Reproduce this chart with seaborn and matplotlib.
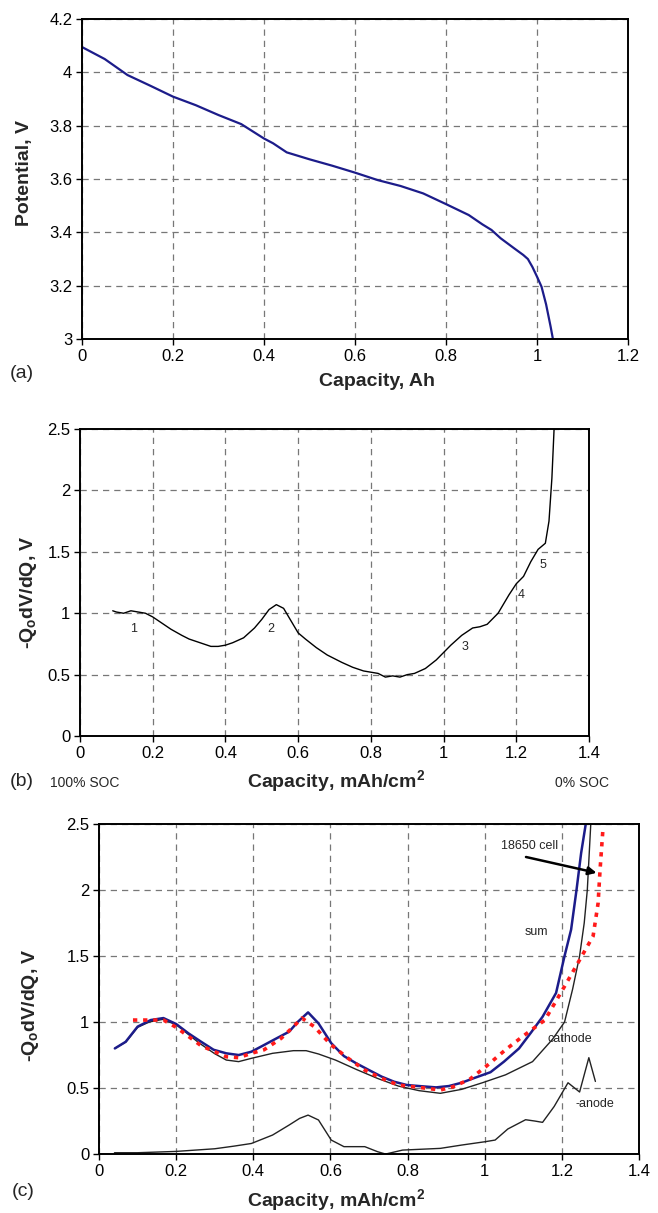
import matplotlib
matplotlib.use('Agg')
import matplotlib.pyplot as plt
import seaborn as sns
import pandas as pd

# (a) discharge curve
cap_a = [0.0, 0.05, 0.1, 0.15, 0.2, 0.25, 0.3, 0.35, 0.4, 0.42, 0.45, 0.5, 0.55, 0.6, 0.65,
         0.7, 0.75, 0.8, 0.85, 0.88, 0.9, 0.92, 0.95, 0.97, 0.98, 0.99, 1.0, 1.01, 1.02,
         1.03, 1.035]
volt_a = [4.095, 4.05, 3.99, 3.95, 3.909, 3.877, 3.84, 3.806, 3.752, 3.734, 3.70, 3.674,
          3.65, 3.624, 3.596, 3.574, 3.546, 3.506, 3.465, 3.43, 3.409, 3.378, 3.34, 3.315,
          3.3, 3.27, 3.234, 3.196, 3.13, 3.046, 3.0]

# (b) differential voltage of the 18650 cell
cap_b = [0.09, 0.1, 0.12, 0.14, 0.16, 0.18, 0.2, 0.22, 0.25, 0.28, 0.3, 0.33, 0.36, 0.38,
         0.4, 0.42, 0.45, 0.48, 0.5, 0.52, 0.54, 0.56, 0.58, 0.6, 0.62, 0.65, 0.68, 0.7,
         0.72, 0.75, 0.78, 0.8, 0.82, 0.84, 0.86, 0.88, 0.9, 0.92, 0.95, 0.98, 1.0, 1.02,
         1.05, 1.08, 1.1, 1.12, 1.15, 1.18, 1.2, 1.22, 1.24, 1.26, 1.28, 1.29, 1.298, 1.304]
dvdq_b = [1.02, 1.01, 1.0, 1.02, 1.01, 1.0, 0.97, 0.93, 0.87, 0.82, 0.79, 0.76, 0.73, 0.73,
          0.74, 0.76, 0.80, 0.88, 0.95, 1.03, 1.07, 1.04, 0.94, 0.84, 0.79, 0.72, 0.66, 0.63,
          0.60, 0.56, 0.53, 0.52, 0.51, 0.48, 0.49, 0.48, 0.50, 0.51, 0.55, 0.62, 0.68, 0.74,
          0.82, 0.88, 0.89, 0.91, 1.0, 1.15, 1.24, 1.30, 1.42, 1.52, 1.57, 1.75, 2.1, 2.5]
peak_labels = ['1', '2', '3', '4', '5']
peak_x = [0.147, 0.524, 1.06, 1.213, 1.273]
peak_y = [0.874, 0.874, 0.725, 1.145, 1.39]

# (c) model: sum, cathode, -anode, and measured cell
cap_sum = [0.041, 0.069, 0.10, 0.134, 0.167, 0.2, 0.232, 0.265, 0.297, 0.33, 0.362, 0.395,
           0.428, 0.46, 0.493, 0.515, 0.542, 0.569, 0.602, 0.635, 0.667, 0.7, 0.733, 0.765,
           0.798, 0.83, 0.874, 0.907, 0.94, 0.972, 1.015, 1.05, 1.089, 1.12, 1.15, 1.185,
           1.207, 1.224, 1.238, 1.25, 1.262]
dvdq_sum = [0.80, 0.85, 0.965, 1.015, 1.03, 0.985, 0.914, 0.85, 0.79, 0.763, 0.75, 0.775,
            0.826, 0.876, 0.927, 1.0, 1.073, 0.99, 0.84, 0.742, 0.687, 0.636, 0.586, 0.548,
            0.523, 0.515, 0.505, 0.515, 0.54, 0.575, 0.62, 0.70, 0.80, 0.92, 1.04, 1.22,
            1.5, 1.7, 2.0, 2.28, 2.5]

cap_cath = [0.041, 0.07, 0.1, 0.13, 0.165, 0.2, 0.23, 0.26, 0.3, 0.33, 0.362, 0.395, 0.45,
            0.504, 0.537, 0.569, 0.613, 0.667, 0.722, 0.776, 0.83, 0.885, 0.94, 0.994, 1.054,
            1.124, 1.176, 1.207, 1.228, 1.246, 1.258, 1.266, 1.275]
dvdq_cath = [0.80, 0.85, 0.96, 1.0, 1.02, 0.98, 0.91, 0.84, 0.76, 0.712, 0.70, 0.725, 0.763,
             0.783, 0.783, 0.758, 0.712, 0.641, 0.573, 0.515, 0.48, 0.46, 0.49, 0.54, 0.60,
             0.70, 0.87, 1.0, 1.25, 1.5, 1.75, 2.0, 2.5]

cap_anode = [0.04, 0.1, 0.2, 0.3, 0.35, 0.395, 0.45, 0.493, 0.52, 0.542, 0.569, 0.602, 0.635,
             0.689, 0.722, 0.743, 0.787, 0.885, 0.94, 1.0, 1.027, 1.06, 1.106, 1.13, 1.15,
             1.18, 1.216, 1.246, 1.27, 1.287]
dvdq_anode = [0.01, 0.01, 0.02, 0.04, 0.06, 0.08, 0.144, 0.22, 0.27, 0.295, 0.258, 0.106,
              0.056, 0.056, 0.018, 0.0, 0.03, 0.043, 0.068, 0.093, 0.106, 0.19, 0.26, 0.25,
              0.24, 0.36, 0.54, 0.47, 0.73, 0.55]

cap_cell = [0.088, 0.167, 0.2, 0.265, 0.33, 0.362, 0.395, 0.428, 0.472, 0.504, 0.526, 0.558,
            0.602, 0.646, 0.689, 0.733, 0.776, 0.83, 0.885, 0.918, 0.961, 1.002, 1.054, 1.098,
            1.156, 1.211, 1.246, 1.281, 1.294, 1.299, 1.307]
dvdq_cell = [1.015, 1.015, 0.96, 0.82, 0.737, 0.73, 0.763, 0.79, 0.876, 0.965, 1.03, 0.965,
             0.826, 0.725, 0.636, 0.573, 0.523, 0.505, 0.485, 0.51, 0.566, 0.66, 0.79, 0.89,
             1.015, 1.29, 1.47, 1.65, 1.9, 2.15, 2.48]

sns.set_style('ticks')
plt.rcParams['font.family'] = ['Liberation Sans', 'DejaVu Sans']
plt.rcParams['mathtext.fontset'] = 'custom'
plt.rcParams['mathtext.rm'] = 'Liberation Sans'
plt.rcParams['mathtext.bf'] = 'Liberation Sans:bold'

navy = '#1c1c8a'
grid_kw = dict(color='#777777', linestyle=(0, (5, 4)), linewidth=0.9)
ylab = r'-Q$_\mathbf{o}$dV/dQ, V'
xlab2 = r'Capacity, mAh/cm$^\mathbf{2}$'


def style(ax):
    ax.grid(True, **grid_kw)
    for s in ax.spines.values():
        s.set_linewidth(1.4)
        s.set_color('black')
    ax.tick_params(direction='out', length=4, width=1, labelsize=12, pad=3, colors='black')


fig = plt.figure(figsize=(6.58, 12.13), dpi=100)

# (a)
ax1 = fig.add_axes([0.1246, 0.7205, 0.8298, 0.2638])
sns.lineplot(x=cap_a, y=volt_a, ax=ax1, color=navy, linewidth=1.6, sort=False)
ax1.set_xlim(0, 1.2)
ax1.set_ylim(3, 4.2)
ax1.set_xticks([0, 0.2, 0.4, 0.6, 0.8, 1, 1.2])
ax1.set_xticklabels(['0', '0.2', '0.4', '0.6', '0.8', '1', '1.2'])
ax1.set_yticks([3, 3.2, 3.4, 3.6, 3.8, 4, 4.2])
ax1.set_yticklabels(['3', '3.2', '3.4', '3.6', '3.8', '4', '4.2'])
style(ax1)
ax1.set_xlabel('Capacity, Ah', fontsize=14, fontweight='bold')
ax1.set_ylabel('Potential, V', fontsize=14, fontweight='bold')
ax1.xaxis.set_label_coords(0.54, -0.105)
ax1.yaxis.set_label_coords(-0.09, 0.52)
fig.text(10 / 658, 1 - 373 / 1213, '(a)', fontsize=14, va='center')

# (b)
ax2 = fig.add_axes([0.1216, 0.3932, 0.7735, 0.2531])
df_b = pd.DataFrame({'cap': cap_b, 'dvdq': dvdq_b})
sns.lineplot(data=df_b, x='cap', y='dvdq', ax=ax2, color='black', linewidth=1.0, sort=False)
for t, x, y in zip(peak_labels, peak_x, peak_y):
    ax2.text(x, y, t, fontsize=9, ha='center', va='center')
ax2.set_xlim(0, 1.4)
ax2.set_ylim(0, 2.5)
ax2.set_xticks([0, 0.2, 0.4, 0.6, 0.8, 1, 1.2, 1.4])
ax2.set_xticklabels(['0', '0.2', '0.4', '0.6', '0.8', '1', '1.2', '1.4'])
ax2.set_yticks([0, 0.5, 1, 1.5, 2, 2.5])
ax2.set_yticklabels(['0', '0.5', '1', '1.5', '2', '2.5'])
style(ax2)
ax2.set_xlabel(xlab2, fontsize=14, fontweight='bold')
ax2.set_ylabel(ylab, fontsize=14, fontweight='bold')
ax2.xaxis.set_label_coords(0.503, -0.105)
ax2.yaxis.set_label_coords(-0.08, 0.47)
fig.text(10 / 658, 1 - 781 / 1213, '(b)', fontsize=14, va='center')
fig.text(50 / 658, 1 - 783 / 1213, '100% SOC', fontsize=10, va='center')
fig.text(555 / 658, 1 - 783 / 1213, '0% SOC', fontsize=10, va='center')

# (c)
ax3 = fig.add_axes([0.1505, 0.0486, 0.8206, 0.2721])
sns.lineplot(x=cap_anode, y=dvdq_anode, ax=ax3, color='#222222', linewidth=1.0, sort=False)
sns.lineplot(x=cap_cath, y=dvdq_cath, ax=ax3, color='#222222', linewidth=1.0, sort=False)
sns.lineplot(x=cap_sum, y=dvdq_sum, ax=ax3, color=navy, linewidth=1.8, sort=False)
sns.lineplot(x=cap_cell, y=dvdq_cell, ax=ax3, color='#ff1a1a', linewidth=2.6,
             linestyle=(0, (1.2, 1.6)), sort=False)
ax3.set_xlim(0, 1.4)
ax3.set_ylim(0, 2.5)
ax3.set_xticks([0, 0.2, 0.4, 0.6, 0.8, 1, 1.2, 1.4])
ax3.set_xticklabels(['0', '0.2', '0.4', '0.6', '0.8', '1', '1.2', '1.4'])
ax3.set_yticks([0, 0.5, 1, 1.5, 2, 2.5])
ax3.set_yticklabels(['0', '0.5', '1', '1.5', '2', '2.5'])
style(ax3)
ax3.text(1.115, 2.33, '18650 cell', fontsize=9, ha='center', va='center')
ax3.annotate('', xy=(1.29, 2.13), xytext=(1.107, 2.25),
             arrowprops=dict(arrowstyle='-|>', color='black', lw=1.8,
                             shrinkA=0, shrinkB=0, mutation_scale=12))
ax3.text(1.135, 1.68, 'sum', fontsize=9, ha='center', va='center')
ax3.text(1.22, 0.87, 'cathode', fontsize=9, ha='center', va='center')
ax3.text(1.286, 0.38, '-anode', fontsize=9, ha='center', va='center')
ax3.set_xlabel(xlab2, fontsize=14, fontweight='bold')
ax3.set_ylabel(ylab, fontsize=14, fontweight='bold')
ax3.xaxis.set_label_coords(0.44, -0.1)
ax3.yaxis.set_label_coords(-0.107, 0.45)
fig.text(12 / 658, 1 - 1192 / 1213, '(c)', fontsize=14, va='center')

plt.savefig('out.png', dpi=100)
